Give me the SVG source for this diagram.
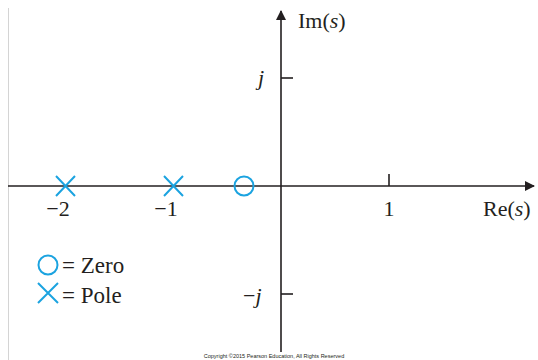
<svg xmlns="http://www.w3.org/2000/svg" width="538" height="360" viewBox="0 0 538 360">
<defs>
<style>
.ax{stroke:#231f20;stroke-width:1.6;fill:none}
.mk{stroke:#1ba3e0;stroke-width:2;fill:none}
.t{font-family:"Liberation Serif","Times New Roman",serif;font-size:22px;fill:#231f20}
.lg{font-size:23px}
.cp{font-family:"Liberation Sans",Arial,sans-serif;font-size:5.5px;fill:#231f20}
</style>
<marker id="ah" markerWidth="10" markerHeight="10" refX="9" refY="5" orient="auto" markerUnits="userSpaceOnUse" viewBox="0 0 10 10">
<path d="M0,0 L10,5 L0,10 Z" fill="#231f20"/>
</marker>
</defs>
<rect width="538" height="360" fill="#fff"/>
<line x1="8.5" y1="8" x2="8.5" y2="360" stroke="#d4d4d4" stroke-width="1"/>
<g id="connectors">
<line class="ax" x1="8" y1="186" x2="534" y2="186" marker-end="url(#ah)"/>
<line class="ax" x1="281" y1="352" x2="281" y2="11" marker-end="url(#ah)"/>
<line class="ax" x1="389" y1="186" x2="389" y2="174"/>
<line class="ax" x1="281" y1="78" x2="293" y2="78"/>
<line class="ax" x1="281" y1="294" x2="293" y2="294"/>
</g>
<g id="im-label"><text class="t" x="298" y="28">Im(<tspan font-style="italic">s</tspan>)</text></g>
<g id="re-label"><text class="t" x="483" y="216">Re(<tspan font-style="italic">s</tspan>)</text></g>
<g id="tick-j"><text class="t" x="258" y="85" font-style="italic">j</text></g>
<g id="tick-mj"><text class="t" x="243" y="303">−<tspan font-style="italic">j</tspan></text></g>
<g id="tick-1"><text class="t" x="389" y="216" text-anchor="middle">1</text></g>
<g id="tick-m1"><text class="t" x="166" y="216" text-anchor="middle">−1</text></g>
<g id="tick-m2"><text class="t" x="58" y="216" text-anchor="middle">−2</text></g>
<g id="pole-m2"><path class="mk" d="M56,176 L75,196 M56,196 L75,176"/></g>
<g id="pole-m1"><path class="mk" d="M164,176 L183,196 M164,196 L183,176"/></g>
<g id="zero"><circle class="mk" cx="244" cy="186" r="9.5"/></g>
<g id="legend-zero"><circle class="mk" cx="48" cy="265" r="9.5"/><text class="t lg" x="62" y="273">= Zero</text></g>
<g id="legend-pole"><path class="mk" d="M38,283 L58,303 M38,303 L58,283"/><text class="t lg" x="62" y="303">= Pole</text></g>
<g id="copyright"><text class="cp" x="274" y="358" text-anchor="middle">Copyright ©2015 Pearson Education, All Rights Reserved</text></g>
</svg>
